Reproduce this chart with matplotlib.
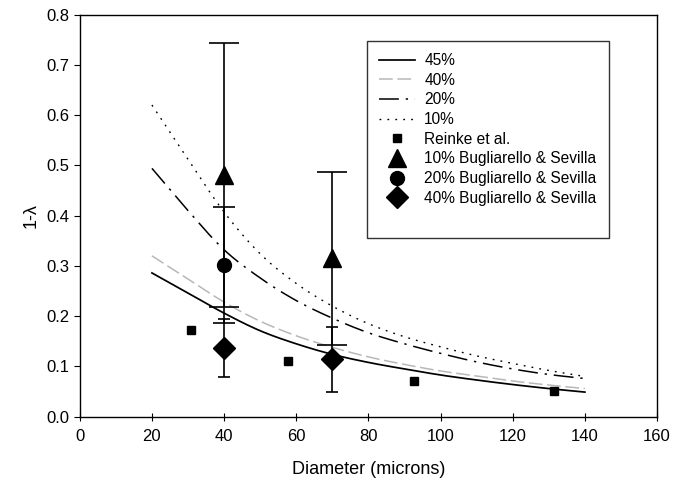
import matplotlib
matplotlib.use("Agg")
import matplotlib.pyplot as plt
import numpy as np
from matplotlib.lines import Line2D
from matplotlib.container import ErrorbarContainer

plt.rcParams['font.family'] = ['Liberation Sans', 'DejaVu Sans']

# Theoretical curves
d_curve = [20, 30, 40, 50, 60, 70, 80, 90, 100, 110, 120, 130, 140]
h45 = [0.286, 0.246, 0.206, 0.171, 0.145, 0.124, 0.108, 0.095, 0.083, 0.073, 0.064, 0.056, 0.049]
h40 = [0.320, 0.274, 0.228, 0.190, 0.161, 0.138, 0.119, 0.104, 0.091, 0.081, 0.071, 0.063, 0.056]
h20 = [0.494, 0.410, 0.332, 0.276, 0.231, 0.196, 0.167, 0.145, 0.126, 0.109, 0.095, 0.084, 0.076]
h10 = [0.620, 0.512, 0.407, 0.324, 0.265, 0.220, 0.185, 0.159, 0.139, 0.121, 0.106, 0.092, 0.080]

# Reinke et al.
reinke_d = [30.7, 57.8, 92.7, 131.3]
reinke_v = [0.172, 0.111, 0.071, 0.051]

# Bugliarello & Sevilla
bs10_d = [40, 70]
bs10_v = [0.481, 0.315]
bs10_err = [0.262, 0.172]
bs20_d = [40]
bs20_v = [0.302]
bs20_err = [0.115]
bs40_d = [40, 70]
bs40_v = [0.137, 0.114]
bs40_err = [0.058, 0.064]


def smooth(x, y, n=12):
    """Catmull-Rom rendering of a line through the given points (drawing style only)."""
    x = np.asarray(x, float)
    y = np.asarray(y, float)
    px = np.concatenate([[2 * x[0] - x[1]], x, [2 * x[-1] - x[-2]]])
    py = np.concatenate([[2 * y[0] - y[1]], y, [2 * y[-1] - y[-2]]])
    xs, ys = [], []
    t = np.linspace(0, 1, n, endpoint=False)
    for i in range(1, len(px) - 2):
        for arr, out in ((px, xs), (py, ys)):
            p0, p1, p2, p3 = arr[i - 1], arr[i], arr[i + 1], arr[i + 2]
            out.extend(0.5 * ((2 * p1) + (-p0 + p2) * t +
                              (2 * p0 - 5 * p1 + 4 * p2 - p3) * t ** 2 +
                              (-p0 + 3 * p1 - 3 * p2 + p3) * t ** 3))
    xs.append(x[-1])
    ys.append(y[-1])
    return np.array(xs), np.array(ys)


fig = plt.figure(figsize=(6.76, 4.84), dpi=100)
ax = fig.add_axes([0.118, 0.139, 0.854, 0.831])

ax.plot(*smooth(d_curve, h45), color='black', lw=1.25, label='45%')
ax.plot(*smooth(d_curve, h40), color='#b8b8b8', lw=1.1, dashes=(9, 3), label='40%')
ax.plot(*smooth(d_curve, h20), color='black', lw=1.1, dashes=(13, 4.5, 1.5, 4.5), label='20%')
ax.plot(*smooth(d_curve, h10), color='black', lw=1.0, dashes=(1.3, 4.4), label='10%')

ax.plot(reinke_d, reinke_v, 's', color='black', ms=6, label='Reinke et al.')
ax.errorbar(bs10_d, bs10_v, yerr=bs10_err, fmt='^', color='black', ms=13,
            ecolor='black', elinewidth=1.2, capsize=10.5, capthick=1.2,
            label='10% Bugliarello & Sevilla')
ax.errorbar(bs20_d, bs20_v, yerr=bs20_err, fmt='o', color='black', ms=10,
            ecolor='black', elinewidth=1.2, capsize=8, capthick=1.2,
            label='20% Bugliarello & Sevilla')
ax.errorbar(bs40_d, bs40_v, yerr=bs40_err, fmt='D', color='black', ms=11,
            ecolor='black', elinewidth=1.2, capsize=4.5, capthick=1.2,
            label='40% Bugliarello & Sevilla')

ax.set_xlim(0, 160)
ax.set_ylim(0, 0.8)
ax.set_xticks(range(0, 161, 20))
ax.set_yticks([i / 10 for i in range(9)])
ax.set_yticklabels([f'{i/10:.1f}' for i in range(9)])
ax.tick_params(axis='x', direction='inout', length=6, labelsize=12, pad=6)
ax.tick_params(axis='y', direction='out', length=4, labelsize=12)
for s in ax.spines.values():
    s.set_linewidth(1.0)

ax.set_xlabel('Diameter (microns)', fontsize=13, labelpad=12)
ax.set_ylabel('1-λ', fontsize=13, labelpad=5)

handles, labels = ax.get_legend_handles_labels()
h2 = []
for h in handles:
    if isinstance(h, ErrorbarContainer):
        h2.append(h.lines[0])
    else:
        h2.append(h)
h2.append(Line2D([], [], linestyle='none', marker=None))
labels.append(' ')
leg = ax.legend(h2, labels, loc='upper left', bbox_to_anchor=(0.497, 0.935),
                fontsize=11.2, frameon=True, fancybox=False, edgecolor='black',
                borderpad=0.8, labelspacing=0.3, handlelength=2.3,
                handletextpad=0.6, borderaxespad=0)
leg.get_frame().set_linewidth(1.0)

fig.savefig('out.png', dpi=100)
